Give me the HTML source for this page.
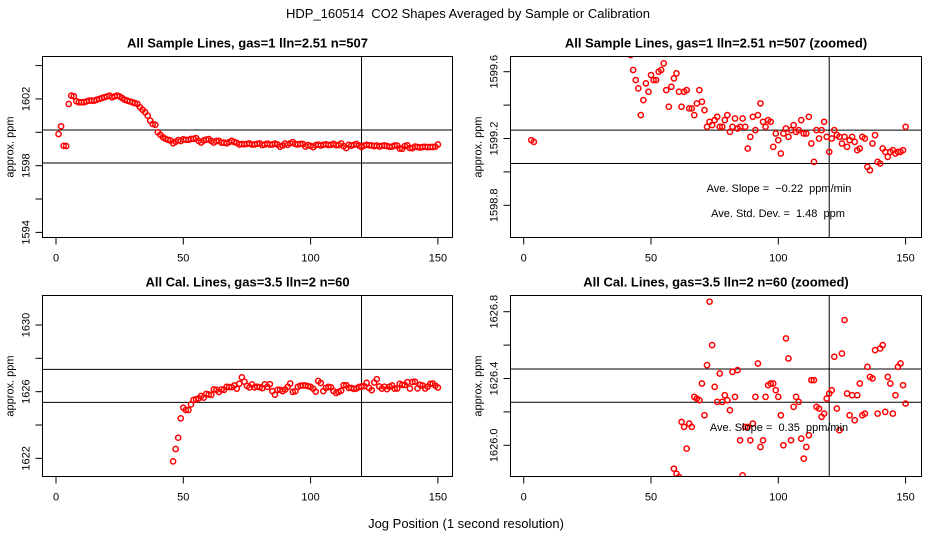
<!DOCTYPE html>
<html><head><meta charset="utf-8"><style>
html,body{margin:0;padding:0;width:936px;height:540px;overflow:hidden;background:#fff;}
svg{display:block;font-family:"Liberation Sans",sans-serif;}
text{white-space:pre;}
</style></head><body>
<svg id="fig" width="936" height="540" viewBox="0 0 936 540" xmlns="http://www.w3.org/2000/svg">
<rect x="0" y="0" width="936" height="540" fill="#fff"/>
<text x="468" y="18" text-anchor="middle" font-size="13" xml:space="preserve">HDP_160514  CO2 Shapes Averaged by Sample or Calibration</text>
<text x="466" y="528" text-anchor="middle" font-size="13">Jog Position (1 second resolution)</text>
</svg>
<script>
const sampleX = [1,2,3,4,5,6,7,8,9,10,11,12,13,14,15,16,17,18,19,20,21,22,23,24,25,26,27,28,29,30,31,32,33,34,35,36,37,38,39,40,41,42,43,44,45,46,47,48,49,50,51,52,53,54,55,56,57,58,59,60,61,62,63,64,65,66,67,68,69,70,71,72,73,74,75,76,77,78,79,80,81,82,83,84,85,86,87,88,89,90,91,92,93,94,95,96,97,98,99,100,101,102,103,104,105,106,107,108,109,110,111,112,113,114,115,116,117,118,119,120,121,122,123,124,125,126,127,128,129,130,131,132,133,134,135,136,137,138,139,140,141,142,143,144,145,146,147,148,149,150];
const sampleY = [1599.9,1600.36,1599.19,1599.18,1601.7,1602.2,1602.16,1601.86,1601.8,1601.8,1601.8,1601.85,1601.9,1601.9,1601.9,1601.95,1602.0,1602.05,1602.1,1602.15,1602.2,1602.1,1602.15,1602.2,1602.15,1602.05,1601.95,1601.9,1601.85,1601.8,1601.75,1601.7,1601.5,1601.35,1601.2,1601.0,1600.7,1600.5,1600.45,1600.0,1599.85,1599.7,
1599.61,1599.55,1599.50,1599.34,1599.43,1599.53,1599.48,1599.58,1599.55,1599.55,1599.60,1599.61,1599.65,1599.49,1599.39,1599.51,1599.56,1599.59,1599.48,1599.39,1599.48,1599.49,1599.38,1599.38,1599.34,1599.41,1599.49,1599.42,1599.37,1599.27,1599.30,1599.28,1599.31,1599.33,1599.27,1599.27,1599.31,1599.34,1599.24,1599.27,1599.32,1599.26,1599.27,1599.32,1599.27,1599.14,1599.21,1599.33,1599.25,1599.34,1599.41,1599.30,1599.27,1599.31,1599.30,1599.15,1599.23,1599.19,1599.11,1599.23,1599.26,1599.21,1599.25,1599.28,1599.24,1599.25,1599.31,1599.23,1599.23,1599.33,1599.17,1599.06,1599.25,1599.20,1599.25,1599.30,1599.21,1599.12,1599.20,1599.25,1599.22,1599.21,1599.17,1599.21,1599.15,1599.19,1599.21,1599.18,1599.13,1599.14,1599.21,1599.20,1599.03,1599.01,1599.17,1599.22,1599.06,1599.05,1599.14,1599.12,1599.09,1599.12,1599.13,1599.11,1599.12,1599.12,1599.13,1599.27];
const calX = [46,47,48,49,50,51,52,53,54,55,56,57,58,59,60,61,62,63,64,65,66,67,68,69,70,71,72,73,74,75,76,77,78,79,80,81,82,83,84,85,86,87,88,89,90,91,92,93,94,95,96,97,98,99,100,101,102,103,104,105,106,107,108,109,110,111,112,113,114,115,116,117,118,119,120,121,122,123,124,125,126,127,128,129,130,131,132,133,134,135,136,137,138,139,140,141,142,143,144,145,146,147,148,149,150];
const calY = [1621.82,1622.56,1623.24,1624.4,1625.04,1624.9,1624.9,1625.24,1625.5,1625.54,1625.6,1625.74,1625.64,1625.86,
1625.83,1625.81,1626.14,1626.11,1625.98,1626.13,1626.11,1626.29,1626.28,1626.27,1626.37,1626.18,1626.48,1626.86,1626.60,1626.35,1626.26,1626.43,1626.26,1626.30,1626.27,1626.21,1626.44,1626.29,1626.45,1626.03,1625.82,1626.11,1626.11,1626.03,1626.13,1626.29,1626.49,1625.99,1626.03,1626.29,1626.36,1626.37,1626.37,1626.33,1626.29,1626.18,1626.00,1626.64,1626.52,1626.03,1626.23,1626.29,1626.26,1626.04,1625.92,1625.99,1626.06,1626.39,1626.39,1626.23,1626.22,1626.17,1626.19,1626.28,1626.31,1626.33,1626.53,1626.22,1626.09,1626.55,1626.75,1626.31,1626.18,1626.30,1626.15,1626.30,1626.37,1626.18,1626.19,1626.47,1626.41,1626.40,1626.57,1626.19,1626.58,1626.60,1626.20,1626.41,1626.37,1626.19,1626.30,1626.47,1626.49,1626.36,1626.25];
const xTicks = [0,50,100,150];
const tlTicks = [1594,1596,1598,1600,1602,1604];
const tlLabels = ["1594","","1598","","1602",""];
const trTicks = [1598.8,1599.0,1599.2,1599.4,1599.6];
const trLabels = ["1598.8","","1599.2","","1599.6"];
const blTicks = [1622,1624,1626,1628,1630];
const blLabels = ["1622","","1626","","1630"];
const brTicks = [1626.0,1626.2,1626.4,1626.6,1626.8];
const brLabels = ["1626.0","","1626.4","","1626.8"];
const tlHLines = [1600.14,1598.16];
const trHLines = [1599.25,1599.05];
const blHLines = [1627.34,1625.36];
const brHLines = [1626.457,1626.258];
const vLineX = [120];

const NS = "http://www.w3.org/2000/svg";
const svg = document.getElementById('fig');
function mk(tag, attrs, parent){const e=document.createElementNS(NS,tag);for(const k in attrs)e.setAttribute(k,attrs[k]);(parent||svg).appendChild(e);return e;}

function panel(id, box, x0px, refV, refPx, pxPerUnit, title, xs, ys, ticks, labels, hl, notes){
  const [L,T,R,B]=box;
  const sx = v => x0px + v*2.546;
  const sy = v => refPx - (v-refV)*pxPerUnit;
  const g = mk('g',{});
  
  
  const t = mk('text',{x:(L+R)/2,y:T-9,'text-anchor':'middle','font-size':13,'font-weight':'bold'},g);
  t.textContent = title;
  
  
  const cp = mk('clipPath',{id:id+'-clip'},g);
  mk('rect',{x:L,y:T,width:R-L,height:B-T},cp);
  const yl = mk('text',{transform:`translate(${L-29},${(T+B)/2}) rotate(-90)`,'text-anchor':'middle','font-size':11},g);
  yl.textContent='approx. ppm';
  
  
  ticks.forEach((v,i)=>{
    const y=sy(v);
    const tk = mk('line',{x1:L-7,x2:L,y1:y,y2:y,stroke:'#000','stroke-width':1},g);
    
    
    if(labels[i]){
      const tl = mk('text',{transform:`translate(${L-13},${y}) rotate(-90)`,'text-anchor':'middle','font-size':11},g);
      tl.textContent=labels[i];
      
      
    }
  });
  xTicks.forEach(v=>{
    const x=sx(v);
    const tk = mk('line',{x1:x,x2:x,y1:B,y2:B+7,stroke:'#000','stroke-width':1},g);
    
    
    const tl = mk('text',{x:x,y:B+24,'text-anchor':'middle','font-size':11},g);
    tl.textContent=String(v);
    
    
  });
  hl.forEach(v=>{
    const ln = mk('line',{x1:L,x2:R,y1:sy(v),y2:sy(v),stroke:'#000','stroke-width':1},g);
    
    
  });
  vLineX.forEach(v=>{
    const ln = mk('line',{x1:sx(v),x2:sx(v),y1:T,y2:B,stroke:'#000','stroke-width':1},g);
    
    
  });
  const pg = mk('g',{'clip-path':`url(#${id}-clip)`},g);
  
  
  xs.forEach((xv,i)=>{
    const c = mk('circle',{cx:sx(xv),cy:sy(ys[i]),r:2.6,fill:'none',stroke:'#f00','stroke-width':1.5},pg);
    
    
  });
  notes.forEach(n=>{
    const nt = mk('text',{x:n[0],y:n[1],'text-anchor':'middle','font-size':11},g);
    nt.textContent=n[2];
    
    
  });
  const fr = mk('rect',{x:L,y:T,width:R-L,height:B-T,fill:'none',stroke:'#000','stroke-width':1},g);
  
  
}

panel('sample-full',[42.5,56.5,452.5,237.5],56,1600,132.3,16.68,'All Sample Lines, gas=1 lln=2.51 n=507',sampleX,sampleY,tlTicks,tlLabels,tlHLines,[]);
panel('sample-zoom',[510.5,56.5,921.5,237.5],523.7,1599.6,71.7,167,'All Sample Lines, gas=1 lln=2.51 n=507 (zoomed)',sampleX,sampleY,trTicks,trLabels,trHLines,
  [[779,192,'Ave. Slope =  \u22120.22  ppm/min'],[778,217,'Ave. Std. Dev. =  1.48  ppm']]);
panel('cal-full',[42.5,295.5,452.5,476.5],56,1630,325,16.67,'All Cal. Lines, gas=3.5 lln=2 n=60',calX,calY,blTicks,blLabels,blHLines,[]);
panel('cal-zoom',[510.5,295.5,921.5,476.5],523.7,1626.8,311.7,167,'All Cal. Lines, gas=3.5 lln=2 n=60 (zoomed)',calX,calY,brTicks,brLabels,brHLines,
  [[779,431,'Ave. Slope =  0.35  ppm/min']]);
</script>
</body></html>
